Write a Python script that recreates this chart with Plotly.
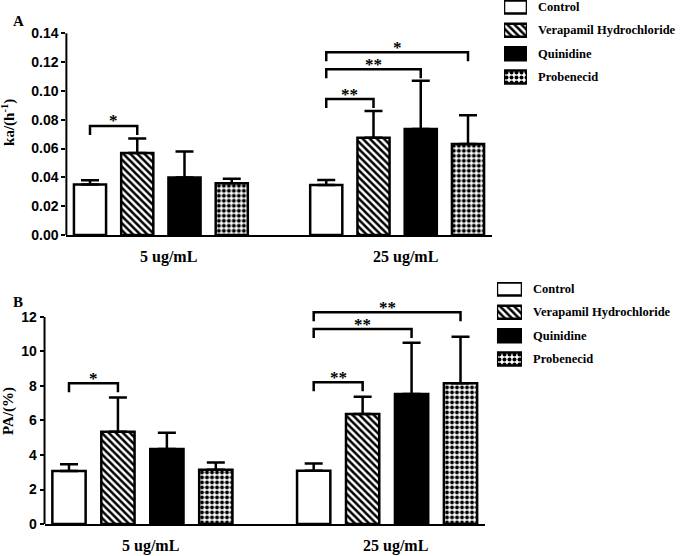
import plotly.graph_objects as go

# ---------------- data ----------------
treatments = ["Control", "Verapamil Hydrochloride", "Quinidine", "Probenecid"]
doses = ["5 ug/mL", "25 ug/mL"]

ka_mean_5 = [0.035, 0.057, 0.040, 0.036]
ka_sd_5 = [0.003, 0.010, 0.018, 0.003]
ka_mean_25 = [0.0347, 0.0675, 0.0736, 0.0632]
ka_sd_25 = [0.0035, 0.0186, 0.0335, 0.0199]

pa_mean_5 = [3.07, 5.35, 4.35, 3.15]
pa_sd_5 = [0.39, 1.98, 0.94, 0.41]
pa_mean_25 = [3.09, 6.38, 7.54, 8.16]
pa_sd_25 = [0.41, 1.00, 2.97, 2.70]

# significance brackets: (dose index, treatment a, treatment b, bracket level, label)
ka_sig = [(0, 0, 1, 0.0757, "*"), (1, 0, 1, 0.0944, "**"),
          (1, 0, 2, 0.1150, "**"), (1, 0, 3, 0.1268, "*")]
pa_sig = [(0, 0, 1, 8.16, "*"), (1, 0, 1, 8.21, "**"),
          (1, 0, 2, 11.30, "**"), (1, 0, 3, 12.27, "**")]

ka_ticks = [0, 0.02, 0.04, 0.06, 0.08, 0.10, 0.12, 0.14]
ka_tick_text = ["0.00", "0.02", "0.04", "0.06", "0.08", "0.10", "0.12", "0.14"]
pa_ticks = [0, 2, 4, 6, 8, 10, 12]
pa_tick_text = ["0", "2", "4", "6", "8", "10", "12"]

# ---------------- style ----------------
SERIF = "Liberation Serif"
SANS = "Liberation Sans"
GAP = 5          # slots per dose group
BAR_W = 0.68
LABEL_SHIFT = 0.17

def marker_for(t):
    base = dict(line=dict(color="black", width=2.5))
    if t == "Control":
        base["color"] = "white"
    elif t == "Verapamil Hydrochloride":
        base["color"] = "white"
        base["pattern"] = dict(shape="\\", size=5, solidity=0.5,
                               fgcolor="black", bgcolor="white", fillmode="replace")
    elif t == "Quinidine":
        base["color"] = "black"
    else:
        base["color"] = "white"
        base["pattern"] = dict(shape=".", size=5, solidity=0.5,
                               fgcolor="black", bgcolor="white", fillmode="replace")
    return base

fig = go.Figure()
annotations = []
shapes = []

panels = [
    dict(xa="x", ya="y", means=[ka_mean_5, ka_mean_25], sds=[ka_sd_5, ka_sd_25],
         sig=ka_sig, leg=0.0062, ymax=0.14, ticks=ka_ticks, ticktext=ka_tick_text,
         xdom=[0.0969, 0.7177], ydom=[0.5773, 0.9401], title="ka/(h<sup>-1</sup>)",
         title_y=0.7806, letter="A", letter_xy=(0.0277, 0.9622),
         lx="x3", ly="y3", lxdom=[0.7358, 0.7693], lydom=[0.8405, 1.0]),
    dict(xa="x2", ya="y2", means=[pa_mean_5, pa_mean_25], sds=[pa_sd_5, pa_sd_25],
         sig=pa_sig, leg=0.52, ymax=12.7, ticks=pa_ticks, ticktext=pa_tick_text,
         xdom=[0.065, 0.708], ydom=[0.05755, 0.4516], title="PA/(%)",
         title_y=0.2608, letter="B", letter_xy=(0.0263, 0.4568),
         lx="x4", ly="y4", lxdom=[0.7255, 0.7620], lydom=[0.3333, 0.4928]),
]

layout_axes = {}
for p in panels:
    xa, ya = p["xa"], p["ya"]
    for ti, t in enumerate(treatments):
        xs = [d * GAP + ti for d in range(len(doses))]
        ys = [p["means"][d][ti] for d in range(len(doses))]
        es = [p["sds"][d][ti] for d in range(len(doses))]
        fig.add_trace(go.Bar(
            x=xs, y=ys, width=BAR_W, xaxis=xa, yaxis=ya, name=t,
            marker=marker_for(t), showlegend=False,
            error_y=dict(type="data", array=es, arrayminus=[0] * len(es),
                         symmetric=False, color="black", thickness=2.5, width=9),
        ))
        # legend swatch
        fig.add_trace(go.Bar(
            x=[1], y=[t], orientation="h", width=0.56, xaxis=p["lx"], yaxis=p["ly"],
            marker=marker_for(t), showlegend=False, hoverinfo="skip",
        ))
        annotations.append(dict(
            x=1, y=t, xref=p["lx"], yref=p["ly"], text="<b>%s</b>" % t,
            showarrow=False, xanchor="left", yanchor="middle", xshift=9,
            font=dict(family=SERIF, size=12.5, color="black")))

    # dose labels
    for d, lab in enumerate(doses):
        annotations.append(dict(
            x=d * GAP + 1.5 + LABEL_SHIFT, y=0, xref=xa, yref=ya,
            text="<b>%s</b>" % lab, showarrow=False, xanchor="center",
            yanchor="top", yshift=-11, font=dict(family=SERIF, size=16, color="black")))

    # significance brackets
    for d, a, b, lvl, lab in p["sig"]:
        x0, x1 = d * GAP + a, d * GAP + b
        shapes.append(dict(
            type="path", xref=xa, yref=ya,
            path="M%s,%s L%s,%s L%s,%s L%s,%s" % (x0, lvl - p["leg"], x0, lvl,
                                                   x1, lvl, x1, lvl - p["leg"]),
            line=dict(color="black", width=2.5)))
        annotations.append(dict(
            x=(x0 + x1) / 2, y=lvl, xref=xa, yref=ya, text="<b>%s</b>" % lab,
            showarrow=False, xanchor="center", yanchor="middle", yshift=5,
            font=dict(family=SERIF, size=17, color="black")))

    # y-axis line up to the last tick
    shapes.append(dict(
        type="line", xref=xa + " domain", yref=ya + " domain",
        x0=0, x1=0, y0=0, y1=p["ticks"][-1] / p["ymax"],
        line=dict(color="black", width=2)))

    # titles / letters
    annotations.append(dict(
        x=0.0131, y=p["title_y"], xref="paper", yref="paper",
        text="<b>%s</b>" % p["title"], textangle=-90, showarrow=False,
        xanchor="center", yanchor="middle", font=dict(family=SERIF, size=15, color="black")))
    annotations.append(dict(
        x=p["letter_xy"][0], y=p["letter_xy"][1], xref="paper", yref="paper",
        text="<b>%s</b>" % p["letter"], showarrow=False,
        xanchor="center", yanchor="middle", font=dict(family=SERIF, size=15, color="black")))

    xkey = "xaxis" if xa == "x" else "xaxis" + xa[1:]
    ykey = "yaxis" if ya == "y" else "yaxis" + ya[1:]
    layout_axes[xkey] = dict(
        domain=p["xdom"], anchor=ya, range=[-0.5, 2 * GAP - 1.5],
        showline=True, linecolor="black", linewidth=2, showgrid=False,
        zeroline=False, showticklabels=False, ticks="", fixedrange=True,
        automargin=False)
    layout_axes[ykey] = dict(
        domain=p["ydom"], anchor=xa, range=[0, p["ymax"]],
        tickmode="array", tickvals=p["ticks"],
        ticktext=["<b>%s</b>" % s for s in p["ticktext"]],
        ticks="outside", ticklen=4,
        tickwidth=2, tickcolor="black", showline=False, showgrid=False,
        zeroline=False, fixedrange=True, automargin=False,
        tickfont=dict(family=SANS, size=14, color="black"))

    lxkey = "xaxis" + p["lx"][1:]
    lykey = "yaxis" + p["ly"][1:]
    layout_axes[lxkey] = dict(domain=p["lxdom"], anchor=p["ly"], range=[0, 1],
                              visible=False, fixedrange=True, automargin=False)
    layout_axes[lykey] = dict(domain=p["lydom"], anchor=p["lx"], range=[3.5, -0.3],
                              type="category", categoryorder="array",
                              categoryarray=treatments, visible=False, fixedrange=True,
                              automargin=False)

fig.update_layout(
    width=685, height=556,
    margin=dict(l=0, r=0, t=0, b=0, pad=0, autoexpand=False),
    paper_bgcolor="white", plot_bgcolor="white", showlegend=False,
    barmode="overlay", annotations=annotations, shapes=shapes, hovermode=False,
    **layout_axes,
)

fig.write_html("out.html",
               config={"displayModeBar": False, "staticPlot": True},
               post_script="document.body.style.margin='0';"
                           "document.body.style.overflow='hidden';")
